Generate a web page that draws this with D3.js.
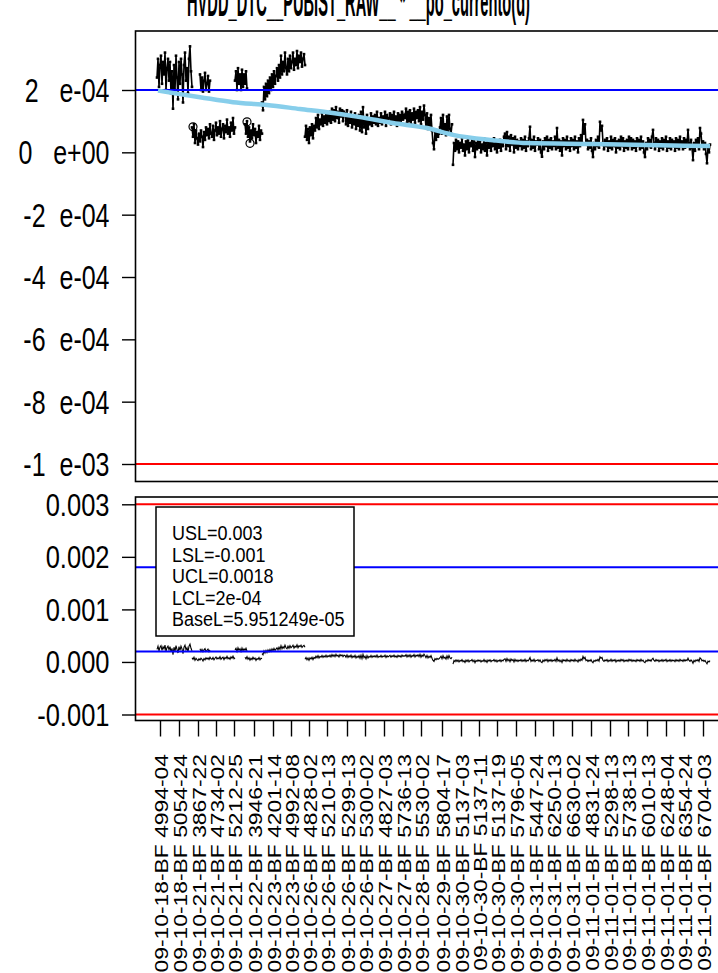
<!DOCTYPE html>
<html>
<head>
<meta charset="UTF-8">
<title>SPC chart</title>
<script src="https://cdnjs.cloudflare.com/ajax/libs/d3/7.8.5/d3.min.js"></script>
<style>
  body { margin: 0; background: #fff; }
  svg { display: block; }
  text { font-family: "Liberation Sans", Arial, sans-serif; fill: #000; }
</style>
</head>
<body>
<script>
// limits
var USL = 0.003, LSL = -0.001, UCL = 0.0018, LCL = 0.0002;
var legendLabels = ["USL=0.003", "LSL=-0.001", "UCL=0.0018", "LCL=2e-04", "BaseL=5.951249e-05"];
var titleText = "HVDD_DTC__PUBIST_RAW__ * __po_currento(d)";

// lot / wafer labels and the observation index where each starts
var lots = ["09-10-18-BF 4994-04","09-10-18-BF 5054-24","09-10-21-BF 3867-22","09-10-21-BF 4734-02","09-10-21-BF 5212-25",
  "09-10-22-BF 3946-21","09-10-23-BF 4201-14","09-10-23-BF 4992-08","09-10-26-BF 4828-02","09-10-26-BF 5210-13",
  "09-10-26-BF 5299-13","09-10-26-BF 5300-02","09-10-27-BF 4827-03","09-10-27-BF 5736-13","09-10-28-BF 5530-02",
  "09-10-29-BF 5804-17","09-10-30-BF 5137-03","09-10-30-BF 5137-11","09-10-30-BF 5137-19","09-10-30-BF 5796-05",
  "09-10-31-BF 5447-24","09-10-31-BF 6250-13","09-10-31-BF 6630-02","09-11-01-BF 4831-24","09-11-01-BF 5298-13",
  "09-11-01-BF 5738-13","09-11-01-BF 6010-13","09-11-01-BF 6248-04","09-11-01-BF 6354-24","09-11-01-BF 6704-03"];
var lotStart = [3,22,41,59,77,97,116,134,152,170,190,208,227,246,264,285,304,322,340,359,378,396,415,434,453,471,490,509,527,546];

var topTicks = [2e-4, 0, -2e-4, -4e-4, -6e-4, -8e-4, -1e-3];
var topTickLabels = ["2   e-04", "0   e+00", "-2  e-04", "-4  e-04", "-6  e-04", "-8  e-04", "-1  e-03"];
var botTicks = [0.003, 0.002, 0.001, 0, -0.001];
var botTickLabels = ["0.003", "0.002", "0.001", "0.000", "-0.001"];

// measurements, in units of 1e-4, one per observation, grouped in runs
var runA = [2.4,3.0,2.1,2.8,3.1,2.2,2.9,2.5,3.2,2.0,2.7,3.0,2.3,2.9,1.9,2.6,1.4,2.8,2.0,3.1,2.4,1.7,2.9,2.2,3.0,2.5,1.6,2.8,3.2,2.3,2.7,1.9,3.0,3.4,2.6,2.1];
var runB = [2.5,2.0,2.4,1.95,2.3,2.55,2.0,2.2,2.45,1.95,2.3];
var runC = [0.8,0.5,0.9,0.3,0.7,0.45,0.25,0.6,0.35,0.7,0.5,0.17,0.65,0.4,0.8,0.55,0.75,0.45,0.9,0.6,0.5,0.85,0.4,0.7,0.95,0.55,0.8,0.6,1.0,0.5,0.75,0.9,0.45,0.85,0.65,1.05,0.6,0.8,0.5,0.95,0.7,1.1,0.6,0.8];
var runD = [2.3,2.6,2.0,2.7,2.2,2.5,2.0,2.65,2.1,2.5,2.2,2.6,2.05];
var runE = [0.9,0.6,1.0,0.5,0.8,0.35,0.7,0.45,0.9,0.55,0.75,0.3,0.65,0.5,0.85,0.4,0.7,0.6];
var runF = [1.6,1.35,2.1,1.7,2.2,1.8,2.3,1.9,2.4,2.0,2.5,2.1,2.6,2.2,2.45,2.7,2.3,2.8,2.4,3.1,2.5,2.9,2.6,3.2,2.7,2.5,3.0,2.6,3.1,2.7,2.9,3.2,2.65,3.0,2.8,3.25,2.7,3.1,2.9,3.2,2.75,3.0,3.15,2.8];
var runG = [0.5,0.85,0.4,0.75,0.3,0.8,0.55,0.9,0.45,0.85,
  0.7,1.1,0.8,1.2,0.75,1.05,0.9,1.25,0.85,1.15,0.95,1.3,0.9,1.2,1.0,
  1.3,0.95,1.4,1.05,1.35,1.0,1.45,1.1,1.3,0.95,1.4,1.15,1.35,1.0,1.3,
  1.25,0.9,1.35,0.85,1.2,0.95,1.3,0.8,1.15,0.9,1.25,0.75,1.1,0.85,1.2,
  0.7,1.3,0.65,1.45,0.8,1.1,0.6,1.2,0.75,1.05,0.9,1.25,0.85,1.15,0.95,
  1.2,0.9,1.3,0.85,1.1,0.95,1.25,0.9,1.15,1.0,1.3,0.85,1.2,0.95,1.1,1.25,0.9,1.2,1.0,1.3,0.95,1.15,0.85,1.25,1.0,1.2,0.9,1.3,1.05,1.2,
  1.1,1.4,0.95,1.3,1.0,1.35,0.9,1.25,1.05,1.4,0.95,1.3,1.1,1.35,1.0,1.45,0.9,1.3,1.05,1.5,
  1.2,0.8,1.25,0.75,1.1,0.85,1.2,0.7,
  0.3,0.1,0.65,0.4,0.7,0.5,0.6,
  0.8,1.1,0.6,1.2,0.7,0.9,0.55,1.15,0.65,1.2,0.75,0.6,0.9];
var runH = [-0.4,0.3,0.05,0.4,0.1,0.35,0.0,0.3,0.15,0.45,0.05,0.25,-0.1,0.35,0.1,0.4,0.0,0.3,0.2,0.45,
  0.05,0.35,-0.15,0.3,0.1,0.4,0.15,0.35,0.0,0.25,0.1,0.45,0.05,0.3,-0.1,0.35,0.15,0.4,0.05,0.3,
  0.2,0.45,0.1,0.35,0.0,0.3,0.15,0.4,0.05,0.35,0.2,0.5,
  0.6,0.1,0.65,0.2,0.5,0.05,0.55,0.25,0.45,0.0,0.5,0.15,0.4,0.1,0.35,
  0.2,0.45,0.1,0.4,0.15,0.5,0.05,0.35,0.2,0.45,
  0.82,0.1,0.4,0.15,0.5,0.05,0.35,0.25,0.45,0.1,
  0.4,0.0,-0.14,0.35,0.1,0.45,0.2,0.5,0.05,0.4,
  0.15,0.45,0.1,0.35,0.2,0.5,0.1,0.78,0.15,0.4,
  0.05,0.35,-0.1,0.45,0.2,0.4,0.1,0.5,0.15,0.35,
  0.05,0.45,0.2,0.4,0.1,0.5,0.15,0.35,0.0,0.45,
  0.2,0.55,0.3,1.04,0.6,0.9,0.25,0.4,0.1,0.35,
  0.15,0.45,0.05,-0.15,0.3,0.1,0.4,0.2,0.5,0.15,
  0.98,0.7,0.85,0.3,0.1,0.4,0.2,0.45,0.05,0.35,
  0.15,0.5,0.1,0.4,0.2,0.45,0.0,0.35,0.15,0.4,
  0.1,0.5,0.2,0.45,0.05,0.35,0.15,0.4,0.1,0.5,
  0.2,0.45,0.1,0.4,0.15,0.35,0.05,0.45,0.2,0.4,
  0.1,0.5,0.15,0.35,0.0,-0.15,0.3,0.1,0.45,0.2,
  0.4,0.15,0.5,0.72,0.3,0.1,0.45,0.2,0.4,0.05,
  0.35,0.15,0.45,0.1,0.4,0.2,0.5,0.05,0.35,0.15,
  0.45,0.1,0.4,0.2,0.35,0.05,0.45,0.15,0.4,0.1,
  0.5,0.2,0.35,0.1,0.45,0.15,0.4,0.25,0.72,0.3,
  0.1,0.4,0.15,-0.25,0.3,0.05,0.4,0.2,0.45,0.1,
  0.78,0.6,0.2,0.35,0.1,0.3,-0.05,-0.35,0.15,0.0,0.25];
var runStart = [0, 43, 35, 78, 88, 105, 148, 296];
var runList = [runA, runB, runC, runD, runE, runF, runG, runH];

// flagged points (circled)
var flagIdx = [36, 90, 93];
var flagVal = [0.82, 0.98, 0.29];

// running baseline, units of 1e-4
var trendIdx = [1, 43, 76, 110, 143, 176, 203, 236, 270, 296, 336, 370, 436, 503, 553];
var trendVal = [1.98, 1.77, 1.61, 1.52, 1.39, 1.26, 1.13, 0.94, 0.78, 0.56, 0.39, 0.30, 0.27, 0.23, 0.20];

var W = 718, H = 973;
var left = 135.5, right = 760;
var topY0 = 31, topY1 = 481.5, botY0 = 497, botY1 = 720.5;

var svg = d3.select("body").append("svg").attr("width", W).attr("height", H);

var x = d3.scaleLinear().domain([0, 553]).range([157, 710]);
var yTop = d3.scaleLinear().domain([-1e-3, 2e-4]).range([464, 90]);
var yBot = d3.scaleLinear().domain([-0.001, 0.003]).range([714.5, 504.3]);

svg.append("clipPath").attr("id", "clipTop").append("rect")
  .attr("x", left).attr("y", topY0).attr("width", right - left).attr("height", topY1 - topY0);
svg.append("clipPath").attr("id", "clipBot").append("rect")
  .attr("x", left).attr("y", botY0).attr("width", right - left).attr("height", botY1 - botY0);

function drawRuns(g, y, lw, ms) {
  runList.forEach(function(vals, k) {
    var s = runStart[k];
    var pts = vals.map(function(v, i) { return [x(s + i), y(v * 1e-4)]; });
    g.append("path").attr("d", d3.line()(pts))
      .attr("fill", "none").attr("stroke", "#000").attr("stroke-width", lw)
      .attr("stroke-linejoin", "miter");
    if (ms > 0) {
      g.selectAll(null).data(pts).enter().append("rect")
        .attr("x", function(p) { return p[0] - ms / 2; })
        .attr("y", function(p) { return p[1] - ms / 2; })
        .attr("width", ms).attr("height", ms).attr("fill", "#000");
    }
  });
}

// ---- top panel
var gTop = svg.append("g").attr("clip-path", "url(#clipTop)");
drawRuns(gTop, yTop, 1.6, 2.6);
gTop.selectAll("circle.flag").data(flagIdx).enter().append("circle")
  .attr("cx", function(d) { return x(d); })
  .attr("cy", function(d, i) { return yTop(flagVal[i] * 1e-4); })
  .attr("r", 4).attr("fill", "none").attr("stroke", "#000").attr("stroke-width", 1.2);
[[LCL, "#0000ff"], [UCL, "#0000ff"], [LSL, "#ff0000"], [USL, "#ff0000"]].forEach(function(l) {
  gTop.append("line").attr("x1", left).attr("x2", right)
    .attr("y1", yTop(l[0])).attr("y2", yTop(l[0]))
    .attr("stroke", l[1]).attr("stroke-width", 2);
});
gTop.append("path")
  .attr("d", d3.line().curve(d3.curveMonotoneX)(trendIdx.map(function(d, i) { return [x(d), yTop(trendVal[i] * 1e-4)]; })))
  .attr("fill", "none").attr("stroke", "#87ceeb").attr("stroke-width", 4.5);

svg.append("rect").attr("x", left).attr("y", topY0).attr("width", right - left).attr("height", topY1 - topY0)
  .attr("fill", "none").attr("stroke", "#000").attr("stroke-width", 1.6);

var axTop = svg.append("g").attr("transform", "translate(" + left + ",0)")
  .call(d3.axisLeft(yTop).tickValues(topTicks).tickFormat(function(d, i) { return topTickLabels[i]; })
    .tickSize(13.5).tickSizeOuter(0).tickPadding(0));
axTop.select(".domain").remove();
axTop.selectAll(".tick line").attr("stroke", "#000").attr("stroke-width", 1.4);
axTop.selectAll(".tick text")
  .attr("x", null).attr("dy", null)
  .attr("transform", "translate(-26,11.5) scale(1,1.32)")
  .attr("text-anchor", "end").style("white-space", "pre")
  .style("font-size", "25px").style("font-family", "'Liberation Sans', Arial, sans-serif");

// title (its top is cut by the page edge, as in the source image)
svg.append("text").attr("transform", "translate(358.5,16) scale(1,1.6)")
  .attr("text-anchor", "middle").attr("textLength", 343).attr("lengthAdjust", "spacingAndGlyphs")
  .style("font-size", "26px").style("font-weight", "bold").text(titleText);

// ---- bottom panel
var gBot = svg.append("g").attr("clip-path", "url(#clipBot)");
drawRuns(gBot, yBot, 1.1, 0);
[[LCL, "#0000ff"], [UCL, "#0000ff"], [LSL, "#ff0000"], [USL, "#ff0000"]].forEach(function(l) {
  gBot.append("line").attr("x1", left).attr("x2", right)
    .attr("y1", yBot(l[0])).attr("y2", yBot(l[0]))
    .attr("stroke", l[1]).attr("stroke-width", 2);
});

svg.append("rect").attr("x", left).attr("y", botY0).attr("width", right - left).attr("height", botY1 - botY0)
  .attr("fill", "none").attr("stroke", "#000").attr("stroke-width", 1.6);

var axBot = svg.append("g").attr("transform", "translate(" + left + ",0)")
  .call(d3.axisLeft(yBot).tickValues(botTicks).tickFormat(function(d, i) { return botTickLabels[i]; })
    .tickSize(13.5).tickSizeOuter(0).tickPadding(0));
axBot.select(".domain").remove();
axBot.selectAll(".tick line").attr("stroke", "#000").attr("stroke-width", 1.4);
axBot.selectAll(".tick text")
  .attr("x", null).attr("dy", null)
  .attr("transform", "translate(-26,11) scale(1,1.26)")
  .attr("text-anchor", "end")
  .style("font-size", "25.5px").style("font-family", "'Liberation Sans', Arial, sans-serif");

// legend box
var lg = svg.append("g");
lg.append("rect").attr("x", 156).attr("y", 507).attr("width", 198).attr("height", 129)
  .attr("fill", "#fff").attr("stroke", "#000").attr("stroke-width", 1.5);
lg.selectAll("text").data(legendLabels).enter().append("text")
  .attr("transform", function(d, i) { return "translate(172," + (540 + i * 21.6) + ") scale(1,1.17)"; })
  .style("font-size", "18px").text(function(d) { return d; });

// x axis with lot labels
var axX = svg.append("g").attr("transform", "translate(0," + botY1 + ")")
  .call(d3.axisBottom(x).tickValues(lotStart).tickFormat(function(d, i) { return lots[i]; })
    .tickSize(16).tickSizeOuter(0));
axX.select(".domain").remove();
axX.selectAll(".tick line").attr("stroke", "#000").attr("stroke-width", 1.4);
axX.selectAll(".tick text")
  .attr("x", null).attr("y", null).attr("dy", null)
  .attr("transform", "translate(7.5,33.5) scale(1,1.27) rotate(-90)")
  .attr("text-anchor", "end")
  .style("font-size", "18px").style("font-family", "'Liberation Sans', Arial, sans-serif");
</script>
</body>
</html>
